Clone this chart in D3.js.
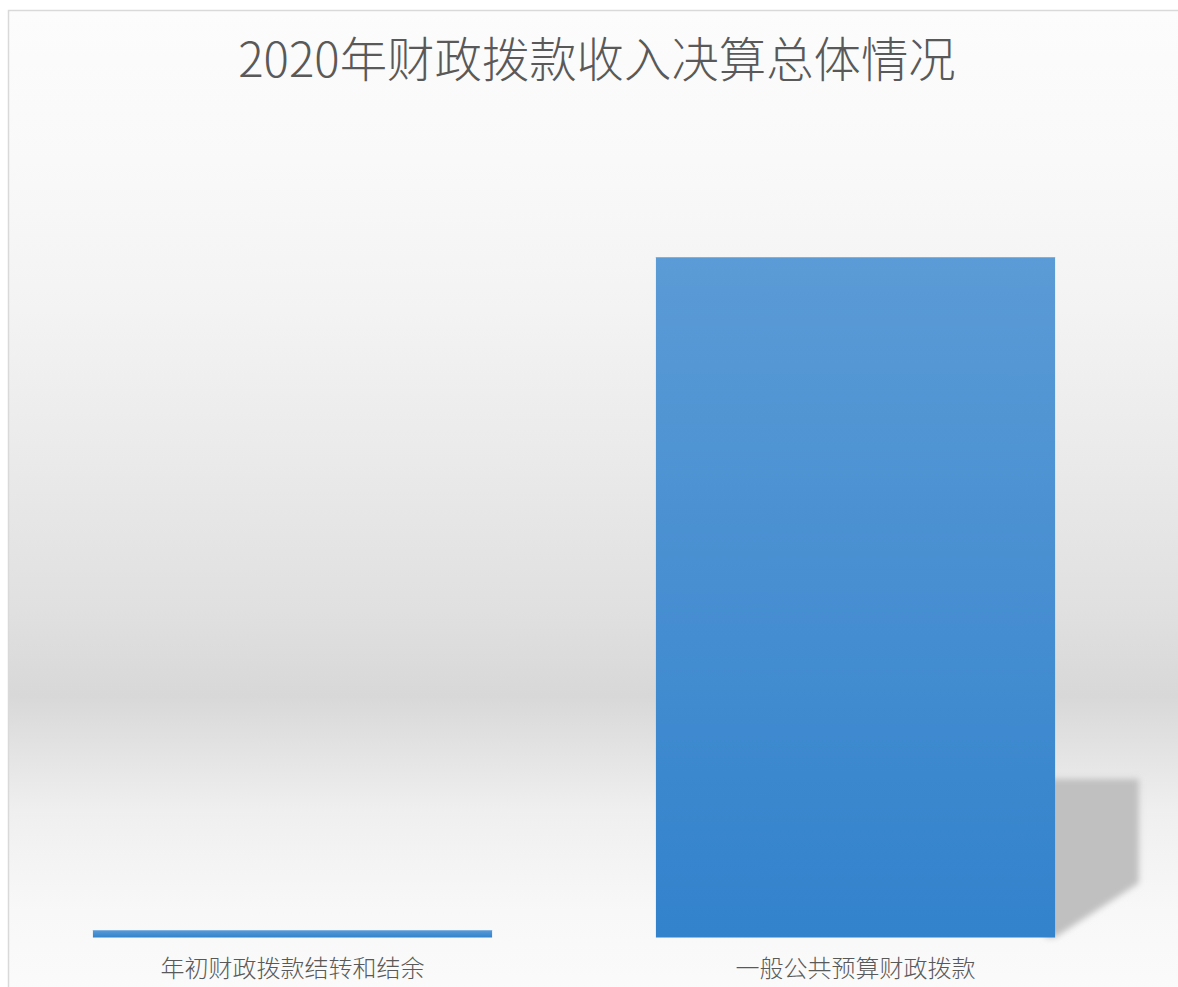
<!DOCTYPE html>
<html>
<head>
<meta charset="utf-8">
<script src="https://cdn.jsdelivr.net/npm/d3@7"></script>
<style>
html,body{margin:0;padding:0;background:#fff;}
svg{display:block;}
</style>
</head>
<body>
<svg id="chart" width="1178" height="987"></svg>
<script>
const title = "2020年财政拨款收入决算总体情况";
const categories = ["年初财政拨款结转和结余", "一般公共预算财政拨款"];
const values = [12.35, 1120.6];

const W = 1178, H = 987;
const svg = d3.select("#chart");
const defs = svg.append("defs");

// background gradient
const bg = defs.append("linearGradient").attr("id","bgGrad").attr("x1",0).attr("y1",0).attr("x2",0).attr("y2",1);
[[0,"#fcfcfc"],[0.15,"#f9f9f9"],[0.3,"#f3f3f3"],[0.45,"#eaeaea"],[0.6,"#e0e0e0"],[0.685,"#d8d8d8"],[0.74,"#e3e3e3"],[0.8,"#efefef"],[0.9,"#f8f8f8"],[1,"#fbfbfb"]]
  .forEach(([o,c])=>bg.append("stop").attr("offset",o).attr("stop-color",c));

const barGrad = defs.append("linearGradient").attr("id","barGrad").attr("x1",0).attr("y1",0).attr("x2",0).attr("y2",1);
barGrad.append("stop").attr("offset",0).attr("stop-color","#5b9bd6");
barGrad.append("stop").attr("offset",1).attr("stop-color","#3282cc");

const blur = defs.append("filter").attr("id","blur").attr("x","-20%").attr("y","-20%").attr("width","140%").attr("height","140%");
blur.append("feGaussianBlur").attr("stdDeviation",3);

// chart area
svg.append("rect").attr("x",8.5).attr("y",10.5).attr("width",1190).attr("height",1000)
  .attr("fill","url(#bgGrad)").attr("stroke","#d9d9d9").attr("stroke-width",1.5);

// title
svg.append("text").attr("x",597).attr("y",77)
  .attr("text-anchor","middle")
  .attr("font-family","'Noto Sans CJK SC','Noto Sans',sans-serif")
  .attr("font-size",47.4).attr("font-weight",300).attr("fill","#595959")
  .text(title);

const x = d3.scaleBand().domain(categories).range([11, 1137]).paddingInner(0.291).paddingOuter(0.1455);
const y = d3.scaleLinear().domain([0, d3.max(values)]).range([937.5, 257]);

const data = categories.map((c,i)=>({c, v: values[i]}));

// perspective shadow behind the tall bar
const g = svg.append("g");
data.forEach(d=>{
  const x0 = x(d.c), bw = x.bandwidth();
  const top = y(d.v), base = y(0);
  const h = base - top;
  if (h < 50) return;
  const right = x0 + bw + bw*0.21;
  const sTop = base - h*0.233;
  const sBot = base - h*0.08;
  const pts = [[x0+bw-10, sTop],[right, sTop],[right, sBot],[x0+bw, base],[x0+bw-10, base]];
  g.append("path").attr("d", d3.line()(pts)+"Z")
    .attr("fill","#c0c0c0").attr("filter","url(#blur)");
});

// bars
svg.append("g").selectAll("rect").data(data).join("rect")
  .attr("x", d=>x(d.c)).attr("width", x.bandwidth())
  .attr("y", d=>y(d.v)).attr("height", d=>y(0)-y(d.v))
  .attr("fill","url(#barGrad)");
svg.append("g").selectAll("line").data(data).join("line")
  .attr("x1", d=>x(d.c)).attr("x2", d=>x(d.c)+x.bandwidth())
  .attr("y1", d=>y(d.v)+0.5).attr("y2", d=>y(d.v)+0.5)
  .attr("stroke","#7fb2e3").attr("stroke-width",1);

// category axis labels
const axis = d3.axisBottom(x).tickSize(0).tickPadding(0);
const ax = svg.append("g").attr("transform",`translate(0,${y(0)})`).call(axis);
ax.select(".domain").remove();
ax.selectAll("text")
  .attr("y", 39).attr("dy", 0)
  .attr("font-family","'Noto Sans CJK SC','Noto Sans',sans-serif")
  .attr("font-size",24).attr("font-weight",300).attr("fill","#595959");
</script>
</body>
</html>
